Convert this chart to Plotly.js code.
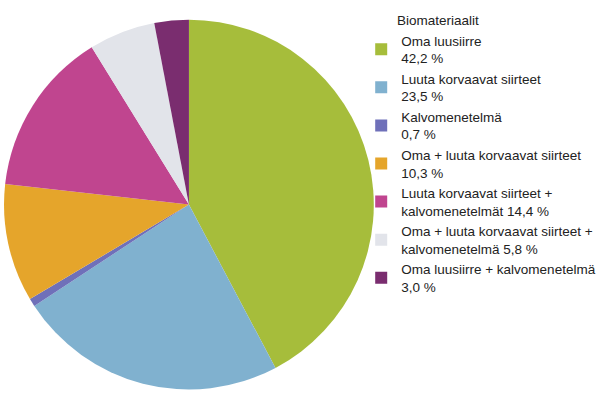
<!DOCTYPE html>
<html><head><meta charset="utf-8">
<script src="https://cdn.plot.ly/plotly-3.0.1.min.js"></script>
<style>html,body{margin:0;padding:0;background:#fff}#chart{width:600px;height:399px}</style>
</head><body><div id="chart"></div>
<script>
const labels = [
  "Oma luusiirre<br>42,2 %",
  "Luuta korvaavat siirteet<br>23,5 %",
  "Kalvomenetelmä<br>0,7 %",
  "Oma + luuta korvaavat siirteet<br>10,3 %",
  "Luuta korvaavat siirteet +<br>kalvomenetelmät 14,4 %",
  "Oma + luuta korvaavat siirteet +<br>kalvomenetelmä 5,8 %",
  "Oma luusiirre + kalvomenetelmä<br>3,0 %"
];
const values = [42.2, 23.5, 0.7, 10.3, 14.4, 5.8, 3.0];
const colors = ["#a6bd3b", "#80b1cf", "#6f70b9", "#e5a52b", "#c0458f", "#e2e4ea", "#7a2d6f"];
const legendTitle = "Biomateriaalit";

Plotly.newPlot("chart", [{
  type: "pie",
  labels: labels,
  values: values,
  sort: false,
  direction: "clockwise",
  rotation: 0,
  textinfo: "none",
  hoverinfo: "label",
  marker: {colors: colors, line: {width: 0}},
  domain: {x: [0.0067, 0.623], y: [0.0226, 0.952]}
}], {
  width: 600, height: 399,
  margin: {l: 0, r: 0, t: 0, b: 0, autoexpand: false},
  paper_bgcolor: "#fff",
  font: {family: "Liberation Sans, Arial, sans-serif", size: 13.5, color: "#222"},
  showlegend: true,
  legend: {
    x: 0.602, y: 0.937, xanchor: "left", yanchor: "top",
    font: {size: 13.5, color: "#222"},
    itemwidth: 30,
    bgcolor: "rgba(0,0,0,0)"
  },
  annotations: [{
    text: legendTitle, xref: "paper", yref: "paper",
    x: 395 / 600, y: 1 - 20 / 399, xanchor: "left", yanchor: "middle",
    showarrow: false, font: {size: 13.5, color: "#222"}
  }]
}, {displayModeBar: false, staticPlot: true});
</script></body></html>
